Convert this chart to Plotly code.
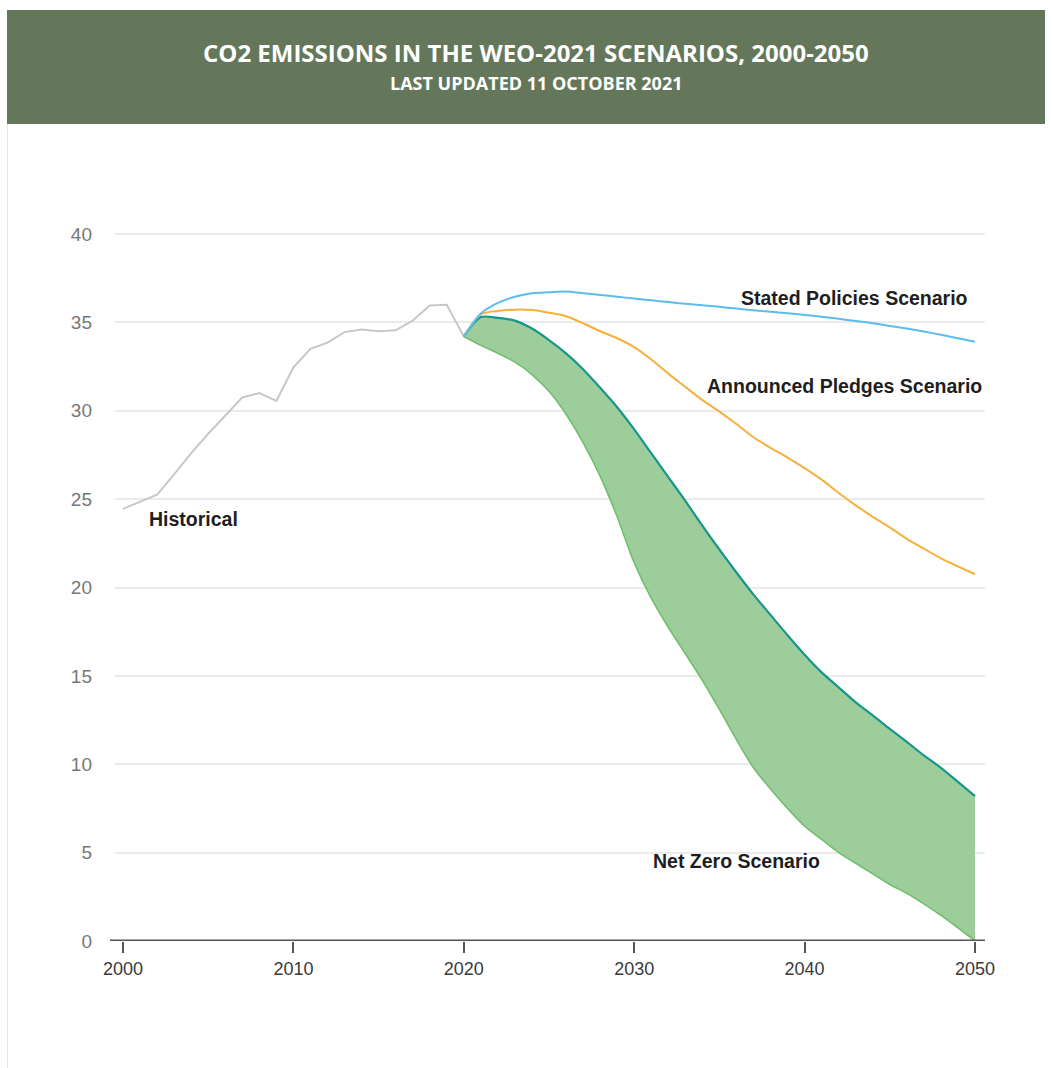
import plotly.graph_objects as go

# ---------------- data ----------------
hist_years = list(range(2000, 2021))
historical = [24.45, 24.85, 25.25, 26.4, 27.6, 28.7, 29.7, 30.75, 31.0, 30.55,
              32.45, 33.5, 33.85, 34.45, 34.6, 34.5, 34.55, 35.1, 35.95, 36.0, 34.2]

scen_years = list(range(2020, 2051))
steps = [34.2, 35.5, 36.1, 36.45, 36.65, 36.7, 36.74, 36.65, 36.55, 36.45,
         36.35, 36.25, 36.15, 36.05, 35.97, 35.88, 35.78, 35.68, 35.6, 35.52,
         35.42, 35.32, 35.2, 35.08, 34.95, 34.8, 34.65, 34.48, 34.3, 34.1, 33.9]
aps = [34.2, 35.45, 35.65, 35.72, 35.7, 35.55, 35.35, 34.95, 34.5, 34.1,
       33.6, 32.9, 32.1, 31.35, 30.6, 29.95, 29.25, 28.5, 27.9, 27.35,
       26.75, 26.1, 25.35, 24.65, 24.0, 23.4, 22.75, 22.2, 21.65, 21.2, 20.75]
sds = [34.2, 35.3, 35.25, 35.1, 34.65, 34.0, 33.25, 32.35, 31.3, 30.2,
       28.95, 27.6, 26.25, 24.9, 23.5, 22.15, 20.85, 19.6, 18.45, 17.3,
       16.2, 15.2, 14.35, 13.5, 12.77, 12.0, 11.26, 10.5, 9.8, 9.0, 8.2]
nze = [34.2, 33.7, 33.25, 32.75, 32.05, 31.1, 29.8, 28.2, 26.3, 24.0,
       21.4, 19.4, 17.75, 16.25, 14.75, 13.1, 11.4, 9.8, 8.6, 7.5,
       6.5, 5.75, 5.0, 4.4, 3.8, 3.2, 2.7, 2.1, 1.45, 0.75, 0.0]

x_ticks = [2000, 2010, 2020, 2030, 2040, 2050]
y_ticks = [0, 5, 10, 15, 20, 25, 30, 35, 40]

title_text = "CO2 EMISSIONS IN THE WEO-2021 SCENARIOS, 2000-2050"
subtitle_text = "LAST UPDATED 11 OCTOBER 2021"

# ---------------- layout geometry (pixels) ----------------
W, H = 1052, 1068
PL, PR, PT, PB = 115, 985, 230, 941   # plot area box
pw, ph = PR - PL, PB - PT


def px(x):
    return (x - PL) / pw


def py(y):
    return (PB - y) / ph


fig = go.Figure()

fig.add_trace(go.Scatter(x=hist_years, y=historical, mode="lines",
                         line=dict(color="#c8c8c8", width=2), hoverinfo="skip"))
fig.add_trace(go.Scatter(x=scen_years, y=nze, mode="lines",
                         line=dict(color="#72be6f", width=1.6, shape="spline", smoothing=0.8),
                         hoverinfo="skip"))
fig.add_trace(go.Scatter(x=scen_years, y=sds, mode="lines", fill="tonexty",
                         fillcolor="rgba(156,205,155,1)",
                         line=dict(color="#16968c", width=2.2, shape="spline", smoothing=0.8),
                         hoverinfo="skip"))
fig.add_trace(go.Scatter(x=scen_years, y=aps, mode="lines",
                         line=dict(color="#f8b03c", width=2, shape="spline", smoothing=0.8),
                         hoverinfo="skip"))
fig.add_trace(go.Scatter(x=scen_years, y=steps, mode="lines",
                         line=dict(color="#5cbdec", width=2, shape="spline", smoothing=0.8),
                         hoverinfo="skip"))

label_font = dict(family="Liberation Sans, Arial, sans-serif", size=19.5, color="#1e1e1e")
fig.add_annotation(x=2001.4, y=23.85, text="<b>Historical</b>", showarrow=False,
                   xanchor="left", yanchor="middle", font=label_font)
fig.add_annotation(x=2049.7, y=36.4, text="<b>Stated Policies Scenario</b>", showarrow=False,
                   xanchor="right", yanchor="middle", font=label_font)
fig.add_annotation(x=2050.5, y=31.4, text="<b>Announced Pledges Scenario</b>", showarrow=False,
                   xanchor="right", yanchor="middle", font=label_font)
fig.add_annotation(x=2031.0, y=4.5, text="<b>Net Zero Scenario</b>", showarrow=False,
                   xanchor="left", yanchor="middle", font=label_font)

# header band
fig.add_shape(type="rect", xref="paper", yref="paper",
              x0=px(7), x1=px(1045), y0=py(124), y1=py(10),
              fillcolor="#65775a", line=dict(width=0), layer="below")
# card left border
fig.add_shape(type="line", xref="paper", yref="paper",
              x0=px(7.5), x1=px(7.5), y0=py(1068), y1=py(124),
              line=dict(color="#e6e6e6", width=1))
# x-axis baseline
fig.add_shape(type="line", xref="paper", yref="y",
              x0=px(110), x1=px(985), y0=0, y1=0,
              line=dict(color="#555555", width=3))

fig.add_annotation(xref="paper", yref="paper", x=px(536), y=py(53),
                   text="<b>" + title_text + "</b>", showarrow=False,
                   xanchor="center", yanchor="middle",
                   font=dict(family="Open Sans, sans-serif", size=24, color="white"))
fig.add_annotation(xref="paper", yref="paper", x=px(536), y=py(83),
                   text="<b>" + subtitle_text + "</b>", showarrow=False,
                   xanchor="center", yanchor="middle",
                   font=dict(family="Open Sans, sans-serif", size=18, color="white"))

x0 = 2000 - 8 / 17.04
fig.update_layout(
    width=W, height=H,
    margin=dict(l=PL, r=W - PR, t=PT, b=H - PB, pad=0),
    paper_bgcolor="white", plot_bgcolor="white",
    showlegend=False,
    xaxis=dict(range=[x0, x0 + pw / 17.04], tickvals=x_ticks,
               showgrid=False, zeroline=False, showline=False,
               ticks="outside", ticklen=11, tickwidth=2, tickcolor="#555555",
               tickfont=dict(family="Liberation Sans, Arial, sans-serif", size=18, color="#3a3a3a")),
    yaxis=dict(range=[0, 40 + 4 / 17.675], tickvals=y_ticks,
               showgrid=True, gridcolor="#ebebeb", gridwidth=1.5,
               zeroline=False, showline=False, ticks="",
               ticklabelstandoff=22,
               tickfont=dict(family="Liberation Sans, Arial, sans-serif", size=19, color="#777777")),
)

fig.write_html("out.html")
